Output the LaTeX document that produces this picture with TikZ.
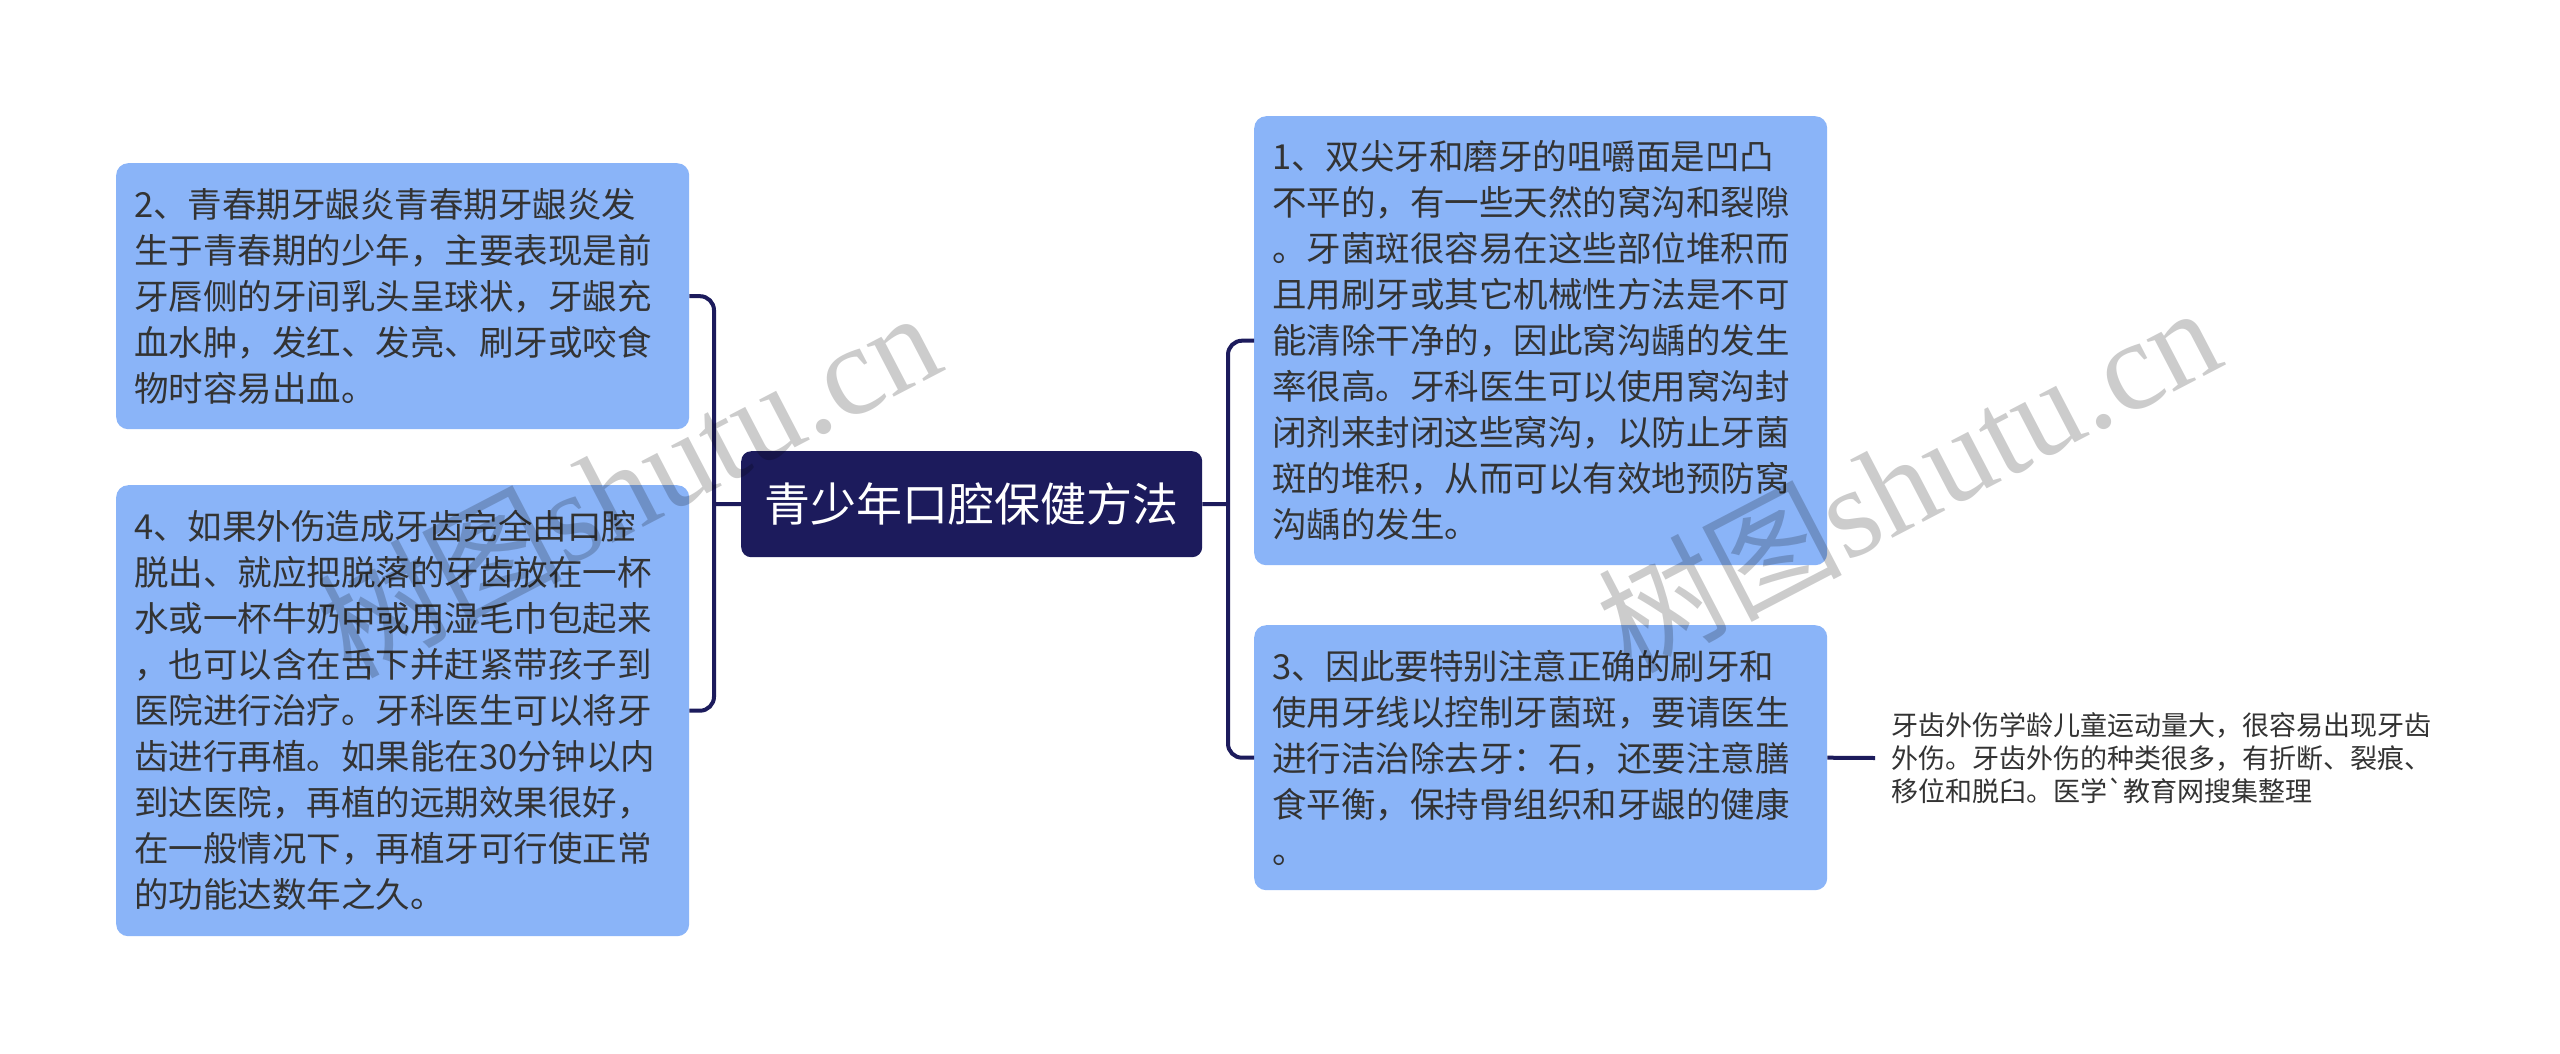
\documentclass[tikz,border=0pt]{standalone}
\usepackage{fontspec}
\newfontfamily\cjk{Noto Sans CJK SC}
\newfontfamily\wmserif{Liberation Serif}
\definecolor{boxblue}{RGB}{138,180,248}
\definecolor{navy}{RGB}{28,27,92}
\definecolor{txt}{RGB}{51,51,51}
\begin{document}
\begin{tikzpicture}[x=1pt,y=-1pt,
  topic/.style={rectangle, rounded corners=12pt, fill=boxblue, text=txt,
    font=\cjk\fontsize{34.5}{46}\selectfont, align=left,
    inner xsep=18pt, inner ysep=0pt, text width=537pt, anchor=north west},
  rootbox/.style={rectangle, rounded corners=10pt, fill=navy, text=white,
    font=\cjk\fontsize{46}{50}\selectfont, inner sep=0pt,
    minimum width=461pt, minimum height=106pt, anchor=north west},
  leafbox/.style={rectangle, text=txt, font=\cjk\fontsize{27}{33}\selectfont,
    align=left, inner xsep=16pt, inner ysep=0pt, anchor=west},
  conn/.style={draw=navy, line width=4pt, rounded corners=14pt},
  wm/.style={text=black, opacity=0.2, inner sep=0pt, anchor=base west, rotate=27.5}
]
\useasboundingbox[fill=white] (0,0) rectangle (2560,1053);

\node[rootbox] (root) at (741,451) {青少年口腔保健方法};

\node[topic, minimum height=266pt] (b2) at (116,163) {2、青春期牙龈炎青春期牙龈炎发\\生于青春期的少年，主要表现是前\\牙唇侧的牙间乳头呈球状，牙龈充\\血水肿，发红、发亮、刷牙或咬食\\物时容易出血。};

\node[topic, minimum height=451pt] (b4) at (116,485) {4、如果外伤造成牙齿完全由口腔\\脱出、就应把脱落的牙齿放在一杯\\水或一杯牛奶中或用湿毛巾包起来\\，也可以含在舌下并赶紧带孩子到\\医院进行治疗。牙科医生可以将牙\\齿进行再植。如果能在30分钟以内\\到达医院，再植的远期效果很好，\\在一般情况下，再植牙可行使正常\\的功能达数年之久。};

\node[topic, minimum height=449pt] (b1) at (1254,116) {1、双尖牙和磨牙的咀嚼面是凹凸\\不平的，有一些天然的窝沟和裂隙\\。牙菌斑很容易在这些部位堆积而\\且用刷牙或其它机械性方法是不可\\能清除干净的，因此窝沟龋的发生\\率很高。牙科医生可以使用窝沟封\\闭剂来封闭这些窝沟，以防止牙菌\\斑的堆积，从而可以有效地预防窝\\沟龋的发生。};

\node[topic, minimum height=265pt] (b3) at (1254,625) {3、因此要特别注意正确的刷牙和\\使用牙线以控制牙菌斑，要请医生\\进行洁治除去牙：石，还要注意膳\\食平衡，保持骨组织和牙龈的健康\\。};

\node[leafbox] (leaf) at (1875,758) {牙齿外伤学龄儿童运动量大，很容易出现牙齿\\外伤。牙齿外伤的种类很多，有折断、裂痕、\\移位和脱臼。医学`教育网搜集整理};

\coordinate (lj) at (714,504);
\coordinate (rj) at (1228,504);

\draw[conn] (b2.east) -- (b2.east -| lj) -- (b4.east -| lj) -- (b4.east);
\draw[conn] (root.west) -- (lj);
\draw[conn] (b1.west) -- (b1.west -| rj) -- (b3.west -| rj) -- (b3.west);
\draw[conn] (root.east) -- (rj);
\draw[conn] (b3.east) -- (leaf.west);

\node[wm] (wm1) at (350,680) {{\cjk\fontsize{122}{122}\selectfont 树图}{\wmserif\fontsize{128}{128}\selectfont shutu.cn}};
\node[wm] (wm2) at (1630,675) {{\cjk\fontsize{122}{122}\selectfont 树图}{\wmserif\fontsize{128}{128}\selectfont shutu.cn}};
\end{tikzpicture}
\end{document}
